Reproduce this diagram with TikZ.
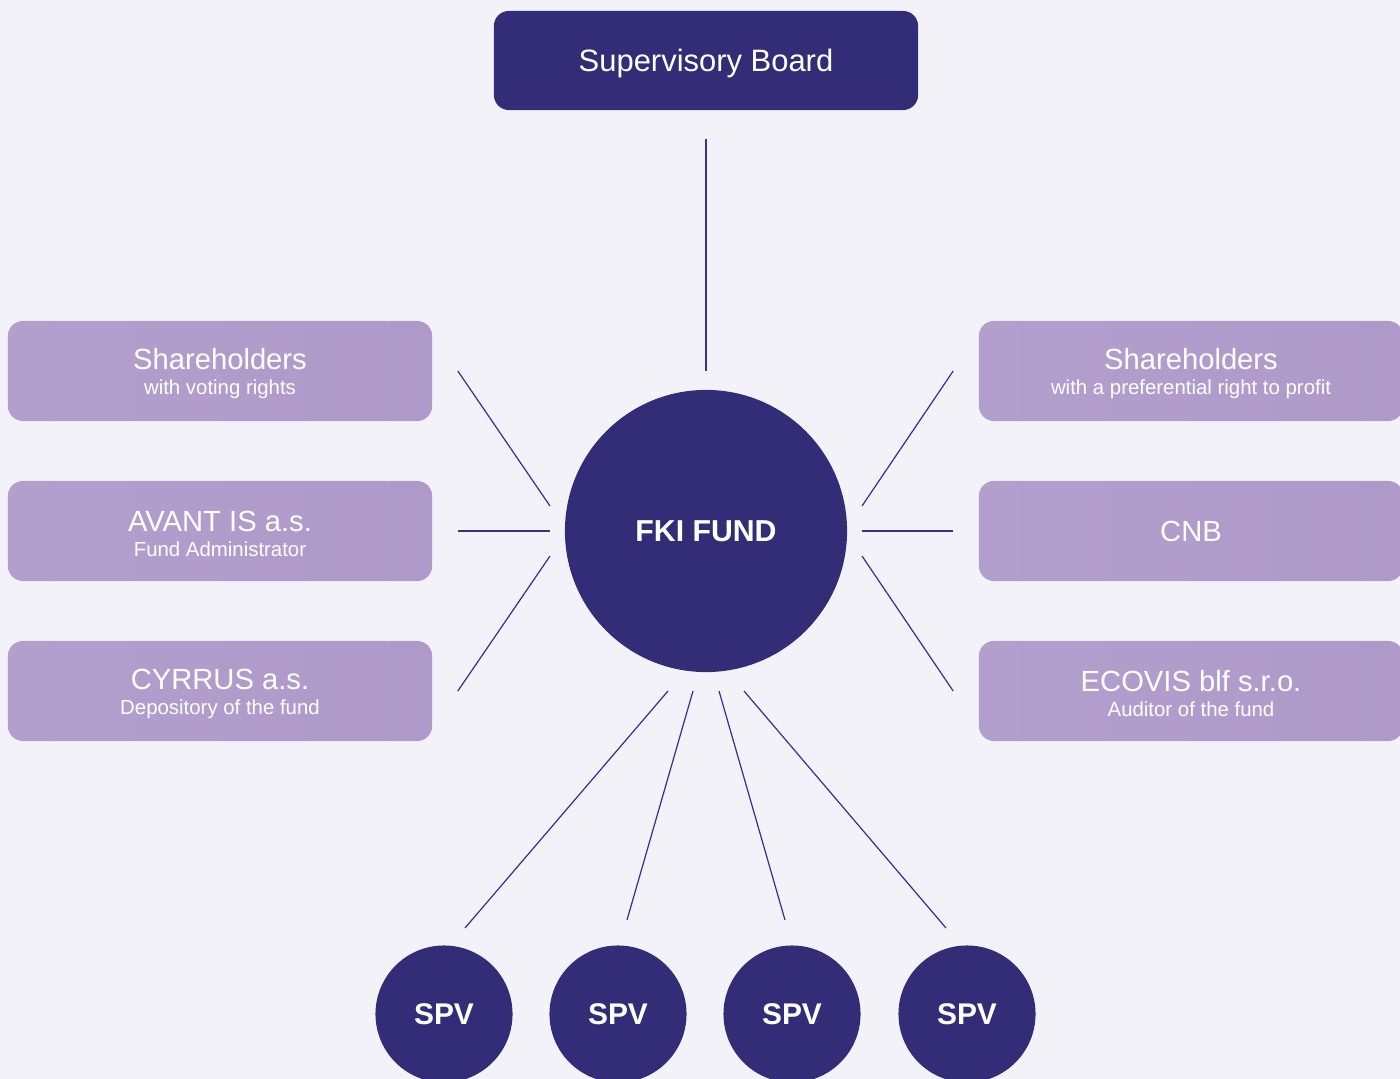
\documentclass[tikz,border=0pt]{standalone}
\usepackage{fontspec}
\setmainfont{Liberation Sans}
\usetikzlibrary{calc}
\definecolor{paper}{RGB}{243,242,248}
\definecolor{navy}{RGB}{51,44,119}
\definecolor{lilacL}{RGB}{179,159,205}
\definecolor{lilacR}{RGB}{174,153,201}
\definecolor{wire}{RGB}{58,50,138}
\newcommand{\rolename}[1]{{\fontsize{8.3}{7.1}\selectfont\rule{0pt}{7.2pt}#1}\\}
\tikzset{
	role/.style={left color=lilacL, right color=lilacR, rounded corners=1.5mm, minimum width=4.24cm, minimum height=1cm, inner sep=0pt, text=white, align=center, font=\fontsize{5.8}{7.1}\selectfont},
	board/.style={fill=navy, rounded corners=1.5mm, minimum width=4.24cm, minimum height=0.99cm, inner sep=0pt, text depth=0pt, text=white, font=\fontsize{8.8}{10}\selectfont},
	hub/.style={circle, fill=navy, minimum size=2.82cm, inner sep=0pt, text=white, font=\bfseries\fontsize{8.6}{10}\selectfont},
	spv/.style={circle, fill=navy, minimum size=1.37cm, inner sep=0pt, text=white, font=\bfseries\fontsize{8.5}{10}\selectfont},
	link/.style={draw=wire, line width=0.35pt}
}
\begin{document}
\begin{tikzpicture}[x=0.01cm, y=-0.01cm]
		%%%%% START %%%%%
		
		\fill[paper] (0, 0) rectangle (1400, 1079);
		\useasboundingbox (0, 0) rectangle (1400, 1079);
		\clip (0, 0) rectangle (1400, 1079);
		
		\node[board] (board) at (706, 60.5) {Supervisory Board};
		\node[hub] (fund) at (706, 531) {FKI FUND};
		
		\node[role] (voting) at (220, 371) {\rolename{Shareholders}with voting rights};
		\node[role] (admin) at (220, 531) {\rolename{AVANT IS a.s.}Fund Administrator};
		\node[role] (depo) at (220, 691) {\rolename{CYRRUS a.s.}Depository of the fund};
		
		\node[role] (profit) at (1191, 371) {\rolename{Shareholders}with a preferential right to profit};
		\node[role, font=\fontsize{8.3}{10}\selectfont] (cnb) at (1191, 531) {CNB};
		\node[role] (audit) at (1191, 691) {\rolename{ECOVIS blf s.r.o.}Auditor of the fund};
		
		\node[spv] (spv1) at (444, 1014) {SPV};
		\node[spv] (spv2) at (618, 1014) {SPV};
		\node[spv] (spv3) at (792, 1014) {SPV};
		\node[spv] (spv4) at (967, 1014) {SPV};
		
		\draw[link] ($(board.south)+(0, 28)$) -- ($(fund.center)+(0, -160)$);
		
		\draw[link] ($(voting.east)+(25, 0)$) -- ($(fund.center)+(-156, -25)$);
		\draw[link] ($(admin.east)+(25, 0)$) -- ($(fund.center)+(-156, 0)$);
		\draw[link] ($(depo.east)+(25, 0)$) -- ($(fund.center)+(-156, 25)$);
		
		\draw[link] ($(profit.west)+(-25, 0)$) -- ($(fund.center)+(156, -25)$);
		\draw[link] ($(cnb.west)+(-25, 0)$) -- ($(fund.center)+(156, 0)$);
		\draw[link] ($(audit.west)+(-25, 0)$) -- ($(fund.center)+(156, 25)$);
		
		\draw[link] ($(fund.center)+(-38, 160)$) -- ($(spv1.center)+(21, -86)$);
		\draw[link] ($(fund.center)+(-13, 160)$) -- ($(spv2.center)+(9, -94)$);
		\draw[link] ($(fund.center)+(13, 160)$) -- ($(spv3.center)+(-7, -94)$);
		\draw[link] ($(fund.center)+(38, 160)$) -- ($(spv4.center)+(-21, -86)$);
		
		%%%%% END %%%%%
	\end{tikzpicture}
\end{document}
